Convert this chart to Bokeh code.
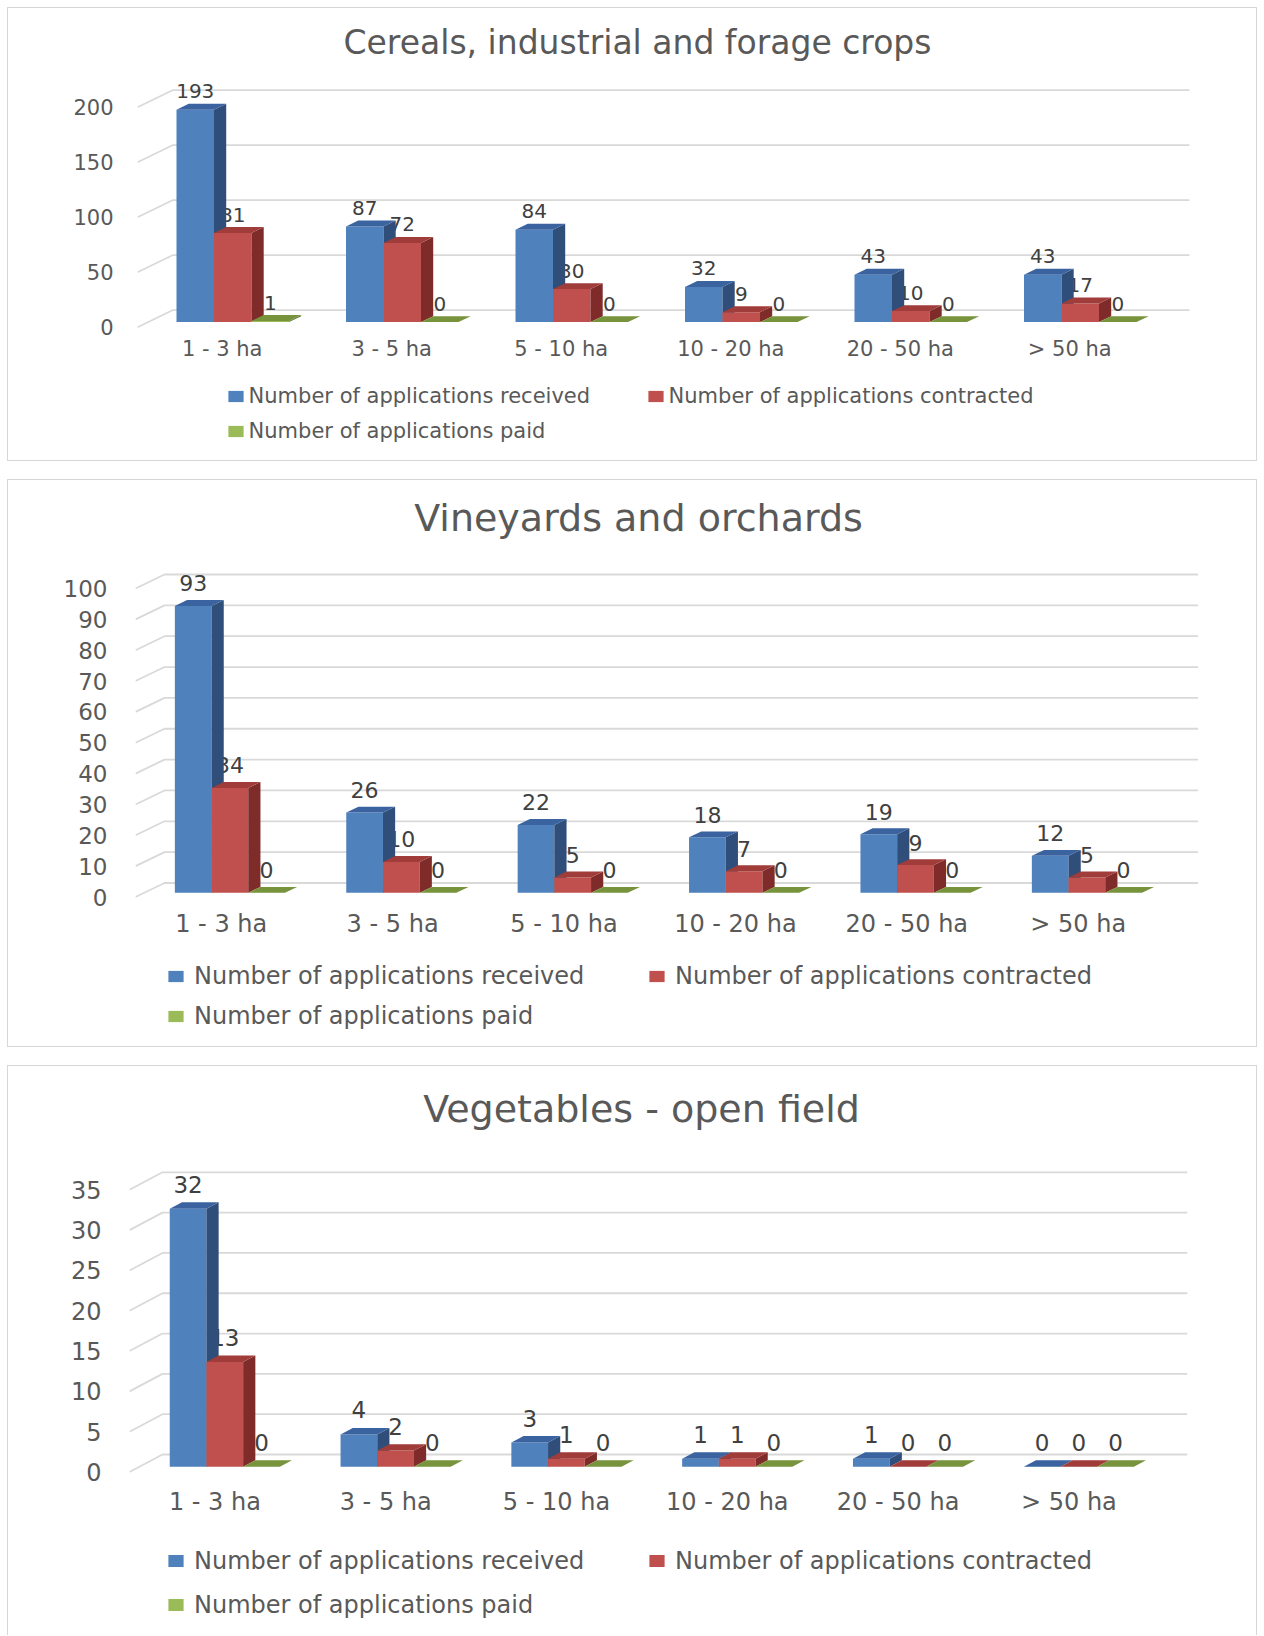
import numpy as np
from bokeh.plotting import figure
from bokeh.models import (ColumnDataSource, FixedTicker, Range1d, Legend, LegendItem,
                          Label, Spacer)
from bokeh.layouts import column, row
from bokeh.embed import file_html
from bokeh.resources import INLINE
from bokeh.core.properties import value

# ---------------- data ----------------
categories = ["1 - 3 ha", "3 - 5 ha", "5 - 10 ha", "10 - 20 ha", "20 - 50 ha", "> 50 ha"]
series_names = ["Number of applications received",
                "Number of applications contracted",
                "Number of applications paid"]

cereals_title = "Cereals, industrial and forage crops"
cereals_received = [193, 87, 84, 32, 43, 43]
cereals_contracted = [81, 72, 30, 9, 10, 17]
cereals_paid = [1, 0, 0, 0, 0, 0]
cereals_ticks = [0, 50, 100, 150, 200]

vine_title = "Vineyards and orchards"
vine_received = [93, 26, 22, 18, 19, 12]
vine_contracted = [34, 10, 5, 7, 9, 5]
vine_paid = [0, 0, 0, 0, 0, 0]
vine_ticks = [0, 10, 20, 30, 40, 50, 60, 70, 80, 90, 100]

veg_title = "Vegetables - open field"
veg_received = [32, 4, 3, 1, 1, 0]
veg_contracted = [13, 2, 1, 1, 0, 0]
veg_paid = [0, 0, 0, 0, 0, 0]
veg_ticks = [0, 5, 10, 15, 20, 25, 30, 35]

# ---------------- styles / layout ----------------
FONT = "DejaVu Sans"
front_colors = ["#4F81BD", "#C0504D", "#9BBB59"]
side_colors = ["#2F4E79", "#7E2B2A", "#5F7731"]
top_colors = ["#3A63A0", "#A03C39", "#77933C"]
W = 1248
BORDER = "1px solid #d6d6d6"

cfg1 = dict(H=452, split=365, fl=129, fr=1192, fb=322, kx=169.5, ky=1.10, f0=318.7,
            DX=35, DY=17, bw=37.5, bd=12.2, gr=5.5, lo=18.5,
            tx=629, ty=33.7, title_size="33px", tick_size="21px", cat_size="21px",
            cs=6, ys=24, leg_size="21px", dl_size="20px",
            leg_left=217.6, col2_left=638, row1=387.6, row_sp=35.4, item_h=25, gh=14, ls=4,
            styles={"border": BORDER})
cfg2 = dict(H=566, split=470, fl=127, fr=1202, fb=421, kx=171.4, ky=3.085, f0=416.5,
            DX=29, DY=14, bw=36.7, bd=12.2, gr=5.53, lo=22.5,
            tx=630, ty=37.3, title_size="38px", tick_size="23px", cat_size="24px",
            cs=8, ys=28, leg_size="24px", dl_size="22px",
            leg_left=158, col2_left=638.8, row1=495.8, row_sp=39.5, item_h=28, gh=14, ls=9,
            styles={"border": BORDER})
cfg3 = dict(H=569, split=465, fl=121, fr=1192, fb=409, kx=170.8, ky=8.063, f0=405.5,
            DX=33, DY=17.5, bw=36.7, bd=12.2, gr=5.5, lo=24.5,
            tx=633, ty=42.3, title_size="38px", tick_size="24px", cat_size="24px",
            cs=12, ys=28, leg_size="24px", dl_size="23px",
            leg_left=158, col2_left=638.8, row1=494.5, row_sp=44.5, item_h=28, gh=15, ls=9,
            styles={"border-top": BORDER, "border-left": BORDER, "border-right": BORDER})


def build(title, received, contracted, paid, ticks, c):
    fl, fr, fb = c["fl"], c["fr"], c["fb"]
    kx, ky, f0 = c["kx"], c["ky"], c["f0"]
    fw, fh = fr - fl, fb
    x0 = -0.5
    x1 = x0 + fw / kx
    y0 = -(fb - f0) / ky
    y1 = f0 / ky
    p = figure(frame_width=fw, frame_height=fh,
               min_border_left=fl, min_border_right=W - fr,
               min_border_top=0, min_border_bottom=c["split"] - fb,
               x_range=Range1d(x0, x1), y_range=Range1d(y0, y1),
               toolbar_location=None, output_backend="svg",
               outline_line_color=None, background_fill_color="white",
               border_fill_color="white")
    p.xgrid.visible = False
    p.ygrid.visible = False

    dxu = c["DX"] / kx
    dyu = c["DY"] / ky

    # 3-D style gridlines (left wall diagonal + back wall)
    gx = [[x0, x0 + dxu, c["gr"] + dxu] for t in ticks]
    gy = [[t, t + dyu, t + dyu] for t in ticks]
    p.multi_line(xs=gx, ys=gy, line_color="#d9d9d9", line_width=1.8)

    series = [received, contracted, paid]
    n = len(categories)
    idx = np.arange(n)
    bw = c["bw"] / kx
    d0 = 0.3
    bdx = c["bd"] / kx
    bdy = c["bd"] * c["DY"] / c["DX"] / ky
    base = d0 * dyu

    geo = []
    for j, vals in enumerate(series):
        v = np.array(vals, dtype=float)
        L = idx - 1.5 * bw + j * bw + d0 * dxu
        R = L + bw
        T = v + base
        geo.append((L, R, T, v))

    # data labels (drawn beneath the bars, like the original)
    for j, (L, R, T, v) in enumerate(geo):
        src = ColumnDataSource(dict(x=(L + R) / 2, y=T + c["lo"] / ky,
                                    t=[str(int(a)) for a in v]))
        p.text(x="x", y="y", text="t", source=src, text_align="center",
               text_baseline="middle", text_font=value(FONT),
               text_font_size=value(c["dl_size"]), text_color="#404040")

    for j, (L, R, T, v) in enumerate(geo):
        p.quad(left=L, right=R, bottom=np.full(n, base), top=T,
               fill_color=front_colors[j], line_color=None)
        sxs = [[R[i], R[i], R[i] + bdx, R[i] + bdx] for i in idx]
        sys_ = [[base, T[i], T[i] + bdy, base + bdy] for i in idx]
        p.patches(xs=sxs, ys=sys_, fill_color=side_colors[j], line_color=None)
        txs = [[L[i], R[i], R[i] + bdx, L[i] + bdx] for i in idx]
        tys = [[T[i], T[i], T[i] + bdy, T[i] + bdy] for i in idx]
        p.patches(xs=txs, ys=tys, fill_color=top_colors[j], line_color=None)

    # axes
    for ax in (p.xaxis[0], p.yaxis[0]):
        ax.axis_line_color = None
        ax.major_tick_line_color = None
        ax.minor_tick_line_color = None
        ax.major_tick_out = 0
        ax.major_tick_in = 0
        ax.minor_tick_out = 0
        ax.minor_tick_in = 0
        ax.major_label_text_font = FONT
        ax.major_label_text_color = "#595959"
    p.xaxis.ticker = FixedTicker(ticks=list(range(n)))
    p.xaxis.major_label_overrides = {i: cat for i, cat in enumerate(categories)}
    p.xaxis.major_label_standoff = c["cs"]
    p.xaxis.major_label_text_font_size = c["cat_size"]
    p.yaxis.ticker = FixedTicker(ticks=ticks)
    p.yaxis.major_label_standoff = c["ys"]
    p.yaxis.major_label_text_font_size = c["tick_size"]

    # title (inside the frame's upper empty area)
    p.add_layout(Label(x=x0 + (c["tx"] - fl) / kx, y=(f0 - c["ty"]) / ky,
                       text=title, text_align="center", text_baseline="middle",
                       text_font=FONT, text_font_size=c["title_size"],
                       text_color="#595959"))

    # legend strip (its own small figure, placed right under the chart)
    hl = c["H"] - c["split"]
    q = figure(frame_width=W, frame_height=hl, min_border=0,
               x_range=Range1d(0, W), y_range=Range1d(0, hl),
               x_axis_location=None, y_axis_location=None,
               toolbar_location=None, output_backend="svg",
               outline_line_color=None, background_fill_color="white",
               border_fill_color="white")
    q.xgrid.visible = False
    q.ygrid.visible = False
    # legend-key helpers, kept outside the visible strip
    key_r = [q.quad(left=[-W], right=[-W + 1], bottom=[-hl], top=[-hl + 1],
                    fill_color=front_colors[j], line_color=None) for j in range(3)]
    ih = c["item_h"]
    sp = int(round(c["row_sp"] - ih))
    label_w = c["col2_left"] - c["leg_left"] - sp - 19 - c["ls"]
    legend_h = 2 * ih + sp
    legend_top = c["row1"] - ih / 2 - c["split"]
    vy = hl - (legend_top + legend_h)
    leg = Legend(items=[LegendItem(label=series_names[j], renderers=[key_r[j]]) for j in range(3)],
                 location=(c["leg_left"], vy), orientation="horizontal", ncols=2,
                 padding=0, margin=0, spacing=sp,
                 border_line_color=None, background_fill_alpha=0,
                 glyph_width=19, glyph_height=c["gh"], label_height=ih,
                 label_width=int(round(label_w)),
                 label_standoff=c["ls"], label_text_font=FONT,
                 label_text_font_size=c["leg_size"], label_text_color="#595959")
    q.add_layout(leg)
    return column(p, q, spacing=0, styles=c["styles"])


panel1 = build(cereals_title, cereals_received, cereals_contracted, cereals_paid, cereals_ticks, cfg1)
panel2 = build(vine_title, vine_received, vine_contracted, vine_paid, vine_ticks, cfg2)
panel3 = build(veg_title, veg_received, veg_contracted, veg_paid, veg_ticks, cfg3)

layout = row(Spacer(width=7),
             column(Spacer(height=7), panel1, Spacer(height=18), panel2, Spacer(height=18), panel3))
open("out.html", "w").write(file_html(layout, INLINE))
